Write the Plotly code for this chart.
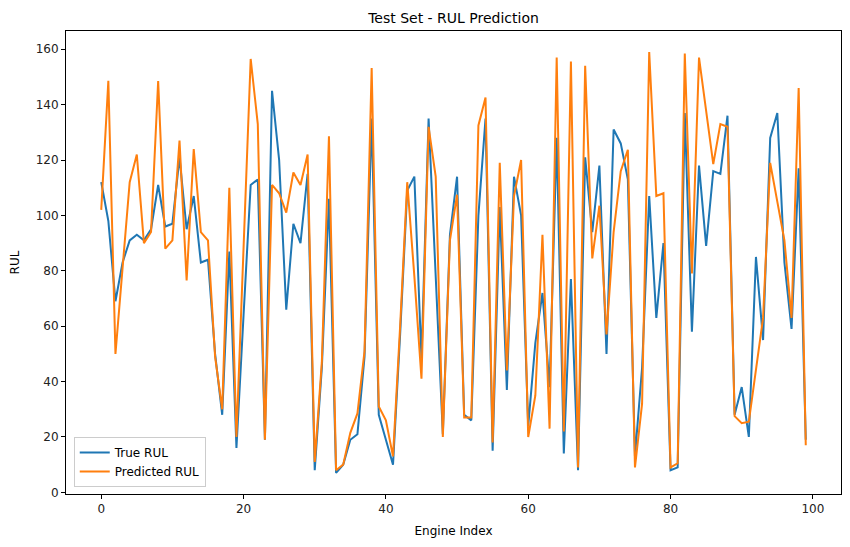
import plotly.graph_objects as go

# values
engine_index = list(range(100))

true_rul = [112, 98, 69, 83, 91, 93, 91, 95, 111, 96,
            97, 121, 95, 107, 83, 84, 50, 28, 87, 16,
            64, 111, 113, 19, 145, 120, 66, 97, 90, 115,
            8, 45, 106, 7, 10, 19, 21, 49, 135, 28,
            19, 10, 57, 109, 114, 48, 135, 78, 21, 93,
            114, 28, 26, 100, 135, 15, 103, 37, 114, 100,
            24, 54, 72, 38, 128, 14, 77, 8, 121, 94,
            118, 50, 131, 126, 113, 13, 45, 107, 63, 90,
            8, 9, 137, 58, 118, 89, 116, 115, 136, 28,
            38, 20, 85, 55, 128, 137, 83, 59, 117, 19]

pred_rul = [102, 148.6, 50, 80, 112, 122, 90, 94, 148.5, 88,
            91, 127, 76.5, 124, 94, 91, 49, 30, 110, 20,
            88, 156.5, 133, 19, 111, 108, 101, 115.5, 111, 122,
            11, 47, 128.6, 8, 10, 21.5, 28.5, 51, 153.2, 31,
            26, 13, 60, 112, 78, 41, 132, 114, 20, 91,
            107.5, 27, 27, 132.5, 142.6, 18, 119, 44, 107, 120,
            20, 35, 93, 23, 157, 22, 155.6, 9, 154, 84.5,
            103.5, 57, 94, 116, 123.7, 9, 32, 159, 107, 108,
            9, 10.5, 158.5, 79, 157, 138, 118.5, 133, 132, 27.5,
            25, 25.5, 44, 63, 119, 105, 91, 63, 146, 17]

fig = go.Figure()
fig.add_trace(go.Scatter(x=engine_index, y=true_rul, mode="lines", name="True RUL",
                         line=dict(color="#1f77b4", width=2)))
fig.add_trace(go.Scatter(x=engine_index, y=pred_rul, mode="lines", name="Predicted RUL",
                         line=dict(color="#ff7f0e", width=2)))

axis_style = dict(showline=True, mirror=True, linecolor="black", linewidth=1,
                  ticks="outside", ticklen=4, tickcolor="black", showgrid=False,
                  zeroline=False, automargin=False, tickfont=dict(size=12, color="#222"))

# page body adds an 8px offset, so margins are shifted to compensate
fig.update_layout(
    width=850, height=547,
    margin=dict(l=58, r=17, t=23, b=61),
    plot_bgcolor="white", paper_bgcolor="white",
    font=dict(family="DejaVu Sans", size=12, color="black"),
    title=dict(text="Test Set - RUL Prediction", x=0.5, xref="paper",
               y=1 - 10 / 547, yanchor="middle", font=dict(size=14)),
    xaxis=dict(axis_style, range=[-4.95, 103.95], tickvals=[0, 20, 40, 60, 80, 100],
               title=dict(text="Engine Index", standoff=11, font=dict(size=12))),
    yaxis=dict(axis_style, range=[-0.6, 166.6], tickvals=list(range(0, 161, 20)),
               title=dict(text="RUL", standoff=13, font=dict(size=12))),
    legend=dict(x=0.01, y=0.015, xanchor="left", yanchor="bottom",
                bgcolor="rgba(255,255,255,0.8)", bordercolor="#cccccc", borderwidth=1,
                font=dict(size=12)),
)

fig.write_html("out.html")
